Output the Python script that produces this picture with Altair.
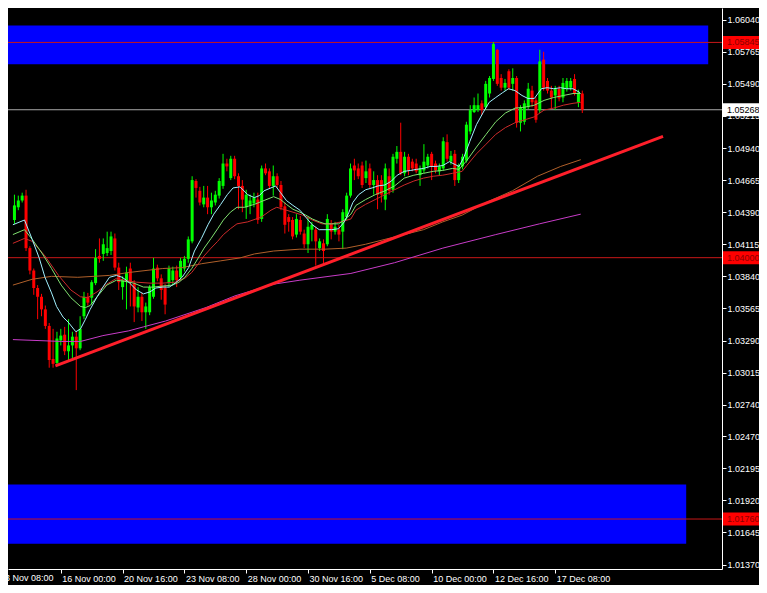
import altair as alt
import pandas as pd

# ---------------- data (H4 candles, bar index 0..147) ----------------
bar_open = [
    1.04323, 1.04432, 1.04490, 1.04532, 1.04082, 1.03890, 1.03740, 1.03665, 1.03557, 1.03415,
    1.03132, 1.03098, 1.03290, 1.03340, 1.03198, 1.03248, 1.03323, 1.03223, 1.03498, 1.03665,
    1.03657, 1.03782, 1.04015, 1.04032, 1.04040, 1.04057, 1.04165, 1.03915, 1.03748, 1.03807,
    1.03907, 1.03782, 1.03573, 1.03665, 1.03532, 1.03532, 1.03665, 1.03915, 1.03823, 1.03740,
    1.03782, 1.03807, 1.03890, 1.03832, 1.03907, 1.03990, 1.04140, 1.04657, 1.04573, 1.04457,
    1.04515, 1.04432, 1.04473, 1.04532, 1.04615, 1.04807, 1.04682, 1.04848, 1.04698, 1.04615,
    1.04432, 1.04448, 1.04465, 1.04498, 1.04332, 1.04765, 1.04740, 1.04615, 1.04698, 1.04623,
    1.04440, 1.04348, 1.04323, 1.04198, 1.04323, 1.04207, 1.04115, 1.04240, 1.04240, 1.04082,
    1.04123, 1.04115, 1.04290, 1.04223, 1.04240, 1.04223, 1.04348, 1.04532, 1.04790, 1.04765,
    1.04790, 1.04682, 1.04765, 1.04623, 1.04665, 1.04665, 1.04498, 1.04698, 1.04582, 1.04848,
    1.04907, 1.04723, 1.04865, 1.04823, 1.04807, 1.04707, 1.04748, 1.04790, 1.04890, 1.04807,
    1.04740, 1.04765, 1.04990, 1.04823, 1.04890, 1.04665, 1.04782, 1.04832, 1.05082, 1.05248,
    1.05265, 1.05323, 1.05290, 1.05407, 1.05532, 1.05782, 1.05540, 1.05457, 1.05598, 1.05490,
    1.05540, 1.05157, 1.05165, 1.05290, 1.05432, 1.05348, 1.05265, 1.05698, 1.05515, 1.05432,
    1.05390, 1.05448, 1.05373, 1.05448, 1.05457, 1.05532, 1.05332, 1.05407,
]
bar_high = [
    1.04540, 1.04532, 1.04557, 1.04582, 1.04098, 1.03907, 1.03765, 1.03690, 1.03590, 1.03440,
    1.03390, 1.03365, 1.03390, 1.03407, 1.03473, 1.03365, 1.03365, 1.03498, 1.03707, 1.03698,
    1.03807, 1.04073, 1.04165, 1.04165, 1.04223, 1.04223, 1.04207, 1.03957, 1.03840, 1.03923,
    1.03957, 1.03807, 1.03748, 1.03698, 1.03615, 1.03765, 1.03998, 1.03940, 1.03857, 1.03773,
    1.03932, 1.03923, 1.03932, 1.03998, 1.04015, 1.04182, 1.04698, 1.04673, 1.04607, 1.04615,
    1.04615, 1.04557, 1.04573, 1.04682, 1.04890, 1.04848, 1.04873, 1.04873, 1.04723, 1.04665,
    1.04582, 1.04540, 1.04557, 1.04557, 1.04790, 1.04807, 1.04765, 1.04790, 1.04723, 1.04657,
    1.04473, 1.04373, 1.04348, 1.04373, 1.04357, 1.04240, 1.04348, 1.04307, 1.04265, 1.04165,
    1.04157, 1.04373, 1.04323, 1.04307, 1.04282, 1.04415, 1.04557, 1.04807, 1.04848, 1.04807,
    1.04823, 1.04832, 1.04807, 1.04740, 1.04707, 1.04707, 1.04807, 1.04765, 1.04890, 1.04957,
    1.05157, 1.04907, 1.04890, 1.04848, 1.04848, 1.04790, 1.04973, 1.04890, 1.04907, 1.04832,
    1.04807, 1.05032, 1.05057, 1.04915, 1.04923, 1.04807, 1.04890, 1.05165, 1.05307, 1.05373,
    1.05407, 1.05348, 1.05515, 1.05557, 1.05848, 1.05790, 1.05573, 1.05532, 1.05615, 1.05623,
    1.05557, 1.05307, 1.05348, 1.05498, 1.05473, 1.05373, 1.05782, 1.05765, 1.05540, 1.05473,
    1.05473, 1.05473, 1.05540, 1.05540, 1.05540, 1.05573, 1.05440, 1.05432,
]
bar_low = [
    1.04290, 1.04407, 1.04473, 1.04057, 1.03857, 1.03682, 1.03473, 1.03498, 1.03390, 1.03057,
    1.03057, 1.03073, 1.03248, 1.03165, 1.03115, 1.03140, 1.02865, 1.03207, 1.03473, 1.03590,
    1.03598, 1.03765, 1.03957, 1.03973, 1.04015, 1.04023, 1.03890, 1.03723, 1.03640, 1.03557,
    1.03582, 1.03448, 1.03532, 1.03457, 1.03390, 1.03507, 1.03648, 1.03798, 1.03640, 1.03515,
    1.03748, 1.03765, 1.03748, 1.03807, 1.03882, 1.03957, 1.04123, 1.04515, 1.04448, 1.04432,
    1.04373, 1.04373, 1.04448, 1.04507, 1.04590, 1.04740, 1.04665, 1.04673, 1.04415, 1.04390,
    1.04332, 1.04373, 1.04432, 1.04290, 1.04307, 1.04707, 1.04590, 1.04532, 1.04598, 1.04407,
    1.04207, 1.04223, 1.04157, 1.04173, 1.04198, 1.04082, 1.04040, 1.04140, 1.03932, 1.04057,
    1.03948, 1.04098, 1.04157, 1.04198, 1.04140, 1.04073, 1.04323, 1.04515, 1.04665, 1.04673,
    1.04598, 1.04640, 1.04598, 1.04540, 1.04415, 1.04473, 1.04407, 1.04540, 1.04557, 1.04807,
    1.04707, 1.04698, 1.04707, 1.04740, 1.04723, 1.04615, 1.04723, 1.04765, 1.04665, 1.04723,
    1.04707, 1.04748, 1.04823, 1.04798, 1.04615, 1.04640, 1.04757, 1.04815, 1.05057, 1.05240,
    1.05248, 1.05223, 1.05265, 1.05373, 1.05515, 1.05473, 1.05432, 1.05432, 1.05440, 1.05432,
    1.05115, 1.05082, 1.05140, 1.05273, 1.05290, 1.05157, 1.05240, 1.05432, 1.05407, 1.05282,
    1.05265, 1.05340, 1.05332, 1.05423, 1.05432, 1.05390, 1.05290, 1.05240,
]
bar_close = [
    1.04448, 1.04490, 1.04532, 1.04082, 1.03890, 1.03740, 1.03665, 1.03557, 1.03415, 1.03123,
    1.03090, 1.03307, 1.03332, 1.03198, 1.03248, 1.03323, 1.03223, 1.03390, 1.03665, 1.03615,
    1.03790, 1.03998, 1.03990, 1.04115, 1.04082, 1.04182, 1.03915, 1.03790, 1.03807, 1.03873,
    1.03790, 1.03582, 1.03665, 1.03532, 1.03582, 1.03748, 1.03907, 1.03823, 1.03723, 1.03598,
    1.03907, 1.03890, 1.03807, 1.03973, 1.03990, 1.04157, 1.04665, 1.04598, 1.04473, 1.04515,
    1.04432, 1.04490, 1.04540, 1.04657, 1.04807, 1.04782, 1.04848, 1.04698, 1.04615, 1.04498,
    1.04540, 1.04490, 1.04515, 1.04323, 1.04765, 1.04723, 1.04615, 1.04698, 1.04623, 1.04432,
    1.04282, 1.04307, 1.04182, 1.04332, 1.04223, 1.04115, 1.04265, 1.04282, 1.04140, 1.04140,
    1.04057, 1.04332, 1.04223, 1.04265, 1.04198, 1.04390, 1.04532, 1.04765, 1.04748, 1.04698,
    1.04623, 1.04740, 1.04623, 1.04665, 1.04540, 1.04540, 1.04765, 1.04573, 1.04865, 1.04907,
    1.04723, 1.04865, 1.04748, 1.04765, 1.04740, 1.04765, 1.04823, 1.04865, 1.04782, 1.04748,
    1.04782, 1.04998, 1.04848, 1.04873, 1.04665, 1.04790, 1.04865, 1.05140, 1.05265, 1.05307,
    1.05307, 1.05265, 1.05490, 1.05540, 1.05832, 1.05490, 1.05457, 1.05498, 1.05457, 1.05540,
    1.05157, 1.05282, 1.05323, 1.05448, 1.05332, 1.05182, 1.05682, 1.05457, 1.05432, 1.05373,
    1.05448, 1.05365, 1.05498, 1.05515, 1.05515, 1.05407, 1.05415, 1.05268,
]

# moving averages: (bar index, price)
ma_fast = [
    (-0.4, 1.04282), (2.6, 1.04323), (4.6, 1.04157), (6.4, 1.03998), (7.9, 1.03832), (9.6, 1.03698),
    (10.9, 1.03582), (12.6, 1.03490), (13.9, 1.03448), (15.9, 1.03365), (17.1, 1.03390), (18.4, 1.03473),
    (19.6, 1.03557), (21.4, 1.03665), (22.9, 1.03748), (24.6, 1.03832), (26.4, 1.03848), (27.9, 1.03832),
    (29.6, 1.03790), (31.6, 1.03723), (33.4, 1.03690), (35.1, 1.03707), (36.6, 1.03740), (38.4, 1.03748),
    (40.1, 1.03748), (41.6, 1.03782), (43.4, 1.03832), (45.1, 1.03915), (46.6, 1.04057), (48.4, 1.04165),
    (50.1, 1.04282), (51.6, 1.04373), (53.4, 1.04457), (55.1, 1.04540), (56.6, 1.04598), (58.4, 1.04607),
    (60.4, 1.04540), (62.1, 1.04515), (63.4, 1.04532), (64.6, 1.04573), (66.4, 1.04598), (67.6, 1.04615),
    (68.9, 1.04557), (70.4, 1.04490), (72.1, 1.04448), (73.9, 1.04407), (75.4, 1.04348), (77.1, 1.04282),
    (78.9, 1.04240), (80.4, 1.04240), (82.1, 1.04240), (83.9, 1.04248), (85.4, 1.04307), (86.6, 1.04390),
    (87.6, 1.04473), (89.1, 1.04540), (90.9, 1.04582), (92.6, 1.04598), (94.1, 1.04615), (95.9, 1.04623),
    (97.6, 1.04657), (99.1, 1.04707), (100.9, 1.04740), (102.6, 1.04748), (104.1, 1.04757), (105.9, 1.04765),
    (107.6, 1.04782), (109.1, 1.04782), (110.9, 1.04790), (112.6, 1.04823), (114.1, 1.04798), (115.1, 1.04782),
    (116.4, 1.04865), (117.9, 1.04998), (119.6, 1.05140), (121.4, 1.05248), (122.9, 1.05332), (124.6, 1.05373),
    (126.4, 1.05415), (127.9, 1.05448), (129.6, 1.05432), (131.4, 1.05390), (132.9, 1.05365), (134.6, 1.05365),
    (136.4, 1.05448), (137.9, 1.05457), (139.6, 1.05448), (141.4, 1.05457), (142.9, 1.05448), (144.6, 1.05448),
    (146.4, 1.05415),
]
ma_mid = [
    (-0.4, 1.04198), (2.6, 1.04240), (4.6, 1.04157), (7.1, 1.04040), (9.6, 1.03907), (12.1, 1.03765),
    (14.6, 1.03657), (17.1, 1.03582), (18.4, 1.03573), (19.6, 1.03590), (21.4, 1.03665), (23.9, 1.03765),
    (26.4, 1.03807), (28.4, 1.03798), (30.9, 1.03782), (33.4, 1.03748), (35.9, 1.03748), (38.4, 1.03757),
    (40.9, 1.03765), (42.6, 1.03790), (44.1, 1.03832), (45.9, 1.03907), (47.6, 1.03998), (49.1, 1.04082),
    (50.9, 1.04165), (52.6, 1.04248), (54.1, 1.04323), (55.9, 1.04390), (57.6, 1.04432), (59.6, 1.04432),
    (62.1, 1.04457), (64.6, 1.04490), (67.1, 1.04523), (68.9, 1.04498), (70.4, 1.04457), (72.1, 1.04415),
    (73.9, 1.04390), (75.4, 1.04365), (77.1, 1.04332), (78.9, 1.04307), (80.4, 1.04290), (82.1, 1.04290),
    (83.9, 1.04290), (85.4, 1.04323), (87.1, 1.04373), (88.4, 1.04448), (90.9, 1.04498), (93.4, 1.04540),
    (95.9, 1.04573), (98.4, 1.04615), (100.9, 1.04682), (103.4, 1.04707), (105.9, 1.04723), (108.4, 1.04740),
    (110.9, 1.04748), (113.4, 1.04765), (115.1, 1.04757), (117.1, 1.04832), (119.6, 1.04948), (122.1, 1.05057),
    (124.6, 1.05165), (127.1, 1.05240), (129.6, 1.05282), (132.1, 1.05290), (134.6, 1.05307), (137.1, 1.05348),
    (139.6, 1.05373), (142.1, 1.05390), (144.6, 1.05407), (146.6, 1.05407),
]
ma_slow = [
    (-0.4, 1.04123), (2.6, 1.04165), (4.6, 1.04140), (7.9, 1.04015), (11.4, 1.03848), (14.6, 1.03723),
    (17.1, 1.03665), (18.9, 1.03657), (21.4, 1.03707), (23.9, 1.03773), (26.4, 1.03823), (28.4, 1.03807),
    (31.6, 1.03790), (35.1, 1.03782), (38.4, 1.03782), (41.6, 1.03790), (44.1, 1.03823), (45.9, 1.03873),
    (47.6, 1.03948), (49.1, 1.04015), (50.9, 1.04082), (52.6, 1.04140), (54.1, 1.04198), (55.9, 1.04248),
    (57.6, 1.04290), (60.4, 1.04307), (63.9, 1.04348), (66.4, 1.04407), (67.9, 1.04432), (69.6, 1.04415),
    (72.1, 1.04390), (74.6, 1.04365), (77.1, 1.04323), (79.6, 1.04290), (82.1, 1.04290), (84.6, 1.04307),
    (87.1, 1.04332), (88.4, 1.04407), (90.9, 1.04457), (93.4, 1.04498), (95.9, 1.04540), (98.4, 1.04582),
    (100.9, 1.04623), (103.4, 1.04657), (105.9, 1.04682), (108.4, 1.04698), (110.9, 1.04707), (113.4, 1.04723),
    (115.9, 1.04740), (117.1, 1.04790), (119.6, 1.04890), (122.1, 1.04973), (124.6, 1.05057), (127.1, 1.05115),
    (129.6, 1.05157), (132.1, 1.05182), (134.6, 1.05207), (137.1, 1.05265), (139.6, 1.05282), (142.1, 1.05307),
    (144.6, 1.05323), (146.6, 1.05332),
]
ma_100 = [
    (-0.4, 1.03765), (4.6, 1.03815), (9.6, 1.03840), (16.4, 1.03832), (24.6, 1.03848), (29.6, 1.03873),
    (38.4, 1.03907), (43.4, 1.03915), (48.4, 1.03948), (53.4, 1.03973), (58.4, 1.03998), (62.1, 1.04032),
    (67.1, 1.04057), (73.9, 1.04073), (80.4, 1.04073), (85.9, 1.04082), (90.9, 1.04115), (95.9, 1.04157),
    (100.9, 1.04198), (105.9, 1.04240), (110.9, 1.04307), (115.9, 1.04365), (122.1, 1.04473), (128.9, 1.04573),
    (135.4, 1.04698), (141.4, 1.04782), (146.6, 1.04840),
]
ma_200 = [
    (-0.4, 1.03298), (12.1, 1.03282), (17.1, 1.03282), (22.9, 1.03332), (29.6, 1.03373), (33.4, 1.03407),
    (39.1, 1.03457), (49.6, 1.03573), (57.1, 1.03673), (67.1, 1.03773), (73.9, 1.03807), (87.1, 1.03865),
    (98.4, 1.03957), (110.9, 1.04082), (124.6, 1.04198), (135.9, 1.04290), (146.6, 1.04373),
]

trend_x = [10.6, 167.9]
trend_y = [1.03073, 1.05040]

zone_x0 = [-2.0, -2.0]
zone_x1 = [179.6, 173.9]
zone_lo = [1.05657, 1.01548]
zone_hi = [1.05990, 1.02057]

level_prices = [1.05845, 1.04000, 1.01760]
level_labels = ["1.05845", "1.04000", "1.01760"]
bid_price = [1.05268]
bid_label = ["1.05268"]

time_ticks = [-4, 12, 28, 44, 60, 76, 92, 108, 124, 140]
time_labels = ["13 Nov 08:00", "16 Nov 00:00", "20 Nov 16:00", "23 Nov 08:00", "28 Nov 00:00",
               "30 Nov 16:00", "5 Dec 08:00", "10 Dec 00:00", "12 Dec 16:00", "17 Dec 08:00"]
price_ticks = [1.06040, 1.05765, 1.05490, 1.05215, 1.04940, 1.04665, 1.04390, 1.04115, 1.03840,
               1.03565, 1.03290, 1.03015, 1.02740, 1.02470, 1.02195, 1.01920, 1.01645, 1.01370]

# ---------------- frames ----------------
candles = pd.DataFrame({"i": list(range(len(bar_open))), "o": bar_open, "h": bar_high,
                        "l": bar_low, "c": bar_close})
up = candles[candles["c"] >= candles["o"]]
down = candles[candles["c"] < candles["o"]]

def ma_frame(pairs):
    return pd.DataFrame({"i": [p[0] for p in pairs], "p": [p[1] for p in pairs]})

zones = pd.DataFrame({"x0": zone_x0, "x1": zone_x1, "lo": zone_lo, "hi": zone_hi})
levels = pd.DataFrame({"p": level_prices, "t": level_labels})
bid = pd.DataFrame({"p": bid_price, "t": bid_label})
trend = pd.DataFrame({"i": trend_x, "p": trend_y})
first_time = pd.DataFrame({"i": time_ticks[:1], "t": time_labels[:1]})

W, H = 714, 561
FONT = "Liberation Sans"
xs = alt.Scale(domain=[-0.375, 181.875], nice=False, zero=False)
ys = alt.Scale(domain=[1.013317, 1.0614], nice=False, zero=False)

label_expr = " : ".join(f"datum.value == {v} ? '{t}'" for v, t in zip(time_ticks, time_labels)) + " : ''"

x_axis = alt.Axis(values=time_ticks, labelExpr=label_expr, labelAlign="left", labelBaseline="top",
                  labelPadding=1, labelOffset=1, tickSize=4, tickColor="#ffffff", domainColor="#ffffff",
                  labelColor="#ffffff", labelFont=FONT, labelFontSize=9, labelOverlap=False,
                  labelFlush=False, grid=False, title=None, zindex=0)
y_axis = alt.Axis(orient="right", values=price_ticks, format=".5f", tickSize=4, labelPadding=1,
                  tickColor="#ffffff", domainColor="#ffffff", labelColor="#ffffff", labelFont=FONT,
                  labelFontSize=9, labelOverlap=False, labelFlush=False, grid=False, title=None,
                  zindex=0)

def X(field):
    return alt.X(field, scale=xs, axis=x_axis)

def Y(field):
    return alt.Y(field, scale=ys, axis=y_axis)

# an invisible layer that only carries both axes
axis_layer = alt.Chart(zones).mark_point(opacity=0, size=0).encode(x=X("x1:Q"), y=Y("lo:Q"))

zone_layer = alt.Chart(zones).mark_rect(color="#0000ff", clip=True).encode(
    x=X("x0:Q"), x2="x1:Q", y=Y("lo:Q"), y2="hi:Q")

level_layer = alt.Chart(levels).mark_rule(color="#c81818", strokeWidth=1).encode(y=Y("p:Q"))
bid_layer = alt.Chart(bid).mark_rule(color="#a8a8a8", strokeWidth=1).encode(y=Y("p:Q"))

def wick(df, color):
    return alt.Chart(df).mark_rule(color=color, strokeWidth=1).encode(
        x=X("i:Q"), y=Y("l:Q"), y2="h:Q")

def body(df, color):
    return alt.Chart(df).mark_bar(color=color, size=3).encode(
        x=X("i:Q"), y=Y("o:Q"), y2="c:Q")

def ma_line(pairs, color, width=1):
    return alt.Chart(ma_frame(pairs)).mark_line(color=color, strokeWidth=width, clip=True).encode(
        x=X("i:Q"), y=Y("p:Q"), order="i:Q")

trend_layer = alt.Chart(trend).mark_line(color="#ff1f2a", strokeWidth=3, clip=True).encode(
    x=X("i:Q"), y=Y("p:Q"))

tag_box = alt.Chart(levels).mark_rect(color="#ff0000", yOffset=-6.5, y2Offset=6.5).encode(
    x=alt.value(W + 1), x2=alt.value(W + 37), y=Y("p:Q"), y2="p:Q")
tag_text = alt.Chart(levels).mark_text(align="left", baseline="middle", font=FONT, fontSize=9,
                                       color="#8a0000").encode(
    x=alt.value(W + 5), y=Y("p:Q"), text="t:N")
bid_box = alt.Chart(bid).mark_rect(color="#ffffff", yOffset=-6.5, y2Offset=6.5).encode(
    x=alt.value(W + 1), x2=alt.value(W + 37), y=Y("p:Q"), y2="p:Q")
bid_text = alt.Chart(bid).mark_text(align="left", baseline="middle", font=FONT, fontSize=9,
                                    color="#000000").encode(
    x=alt.value(W + 5), y=Y("p:Q"), text="t:N")

# first time label, which lies left of the plot and is cut by the chart edge
first_label = alt.Chart(first_time).mark_text(align="left", baseline="top", font=FONT, fontSize=9,
                                              color="#ffffff", dx=1).encode(
    x=X("i:Q"), y=alt.value(H + 5), text="t:N")

chart = alt.layer(
    axis_layer, zone_layer, level_layer, bid_layer,
    wick(up, "#00ff00"), wick(down, "#ff0000"),
    body(up, "#00ff00"), body(down, "#ff0000"),
    ma_line(ma_200, "#c83cc8"), ma_line(ma_100, "#b0602a"),
    ma_line(ma_slow, "#cc2a2a"), ma_line(ma_mid, "#80e070"), ma_line(ma_fast, "#a0f0ff"),
    trend_layer, tag_box, tag_text, bid_box, bid_text, first_label,
).properties(
    width=W, height=H,
    autosize=alt.AutoSizeParams(type="none"),
    padding={"left": 0, "top": 0, "right": 37, "bottom": 16},
    background="#000000",
).configure_view(stroke=None)

chart.save("out.html", embed_options={"renderer": "svg", "actions": False})
